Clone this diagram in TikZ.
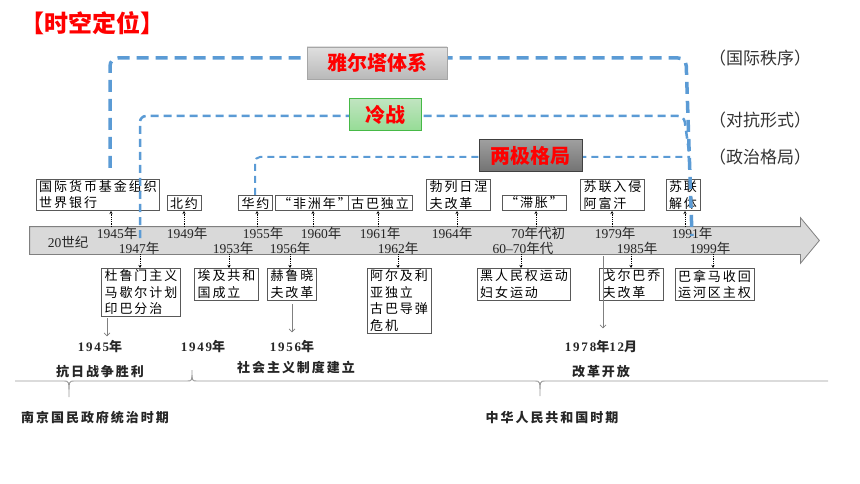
\documentclass[tikz,border=0pt]{standalone}
\usepackage{fontspec}
\setmainfont{Liberation Serif}
\newfontfamily\cjk[LetterSpace=15]{Noto Sans CJK SC}
\newfontfamily\cjkplain{Noto Sans CJK SC}
\newfontfamily\spnum[LetterSpace=14]{Liberation Serif}
\usetikzlibrary{arrows.meta, positioning, calc}
\definecolor{dashblue}{HTML}{5B9BD5}
\definecolor{barfill}{HTML}{D9D9D9}
\definecolor{barline}{HTML}{808080}
\definecolor{boxline}{HTML}{595959}
\newcommand{\nian}{{\cjkplain 年}}

\begin{document}
\begin{tikzpicture}[x=1pt, y=-1pt, >=Stealth, thick]

		% Define block styles
		\tikzstyle{evbox} = [draw=boxline, fill=white, line width=0.8pt, inner xsep=3pt, inner ysep=1.5pt, align=left, font=\cjk\fontsize{13}{16.5}\selectfont]
		\tikzstyle{yr} = [inner sep=0pt, text=black!85, font=\fontsize{13.5}{13.5}\selectfont]
		\tikzstyle{era} = [inner sep=0pt, text=black!85, font=\bfseries\fontsize{13}{13}\selectfont]
		\tikzstyle{tag} = [draw, line width=0.8pt, inner sep=0pt, minimum height=32pt, text=red, font=\cjkplain\bfseries\fontsize{20}{20}\selectfont]
		\tikzstyle{hint} = [inner sep=0pt, text=black!80, font=\cjkplain\fontsize{17}{17}\selectfont]
		\tikzstyle{tickup} = [densely dotted, line width=0.8pt, -{Stealth[length=3pt, width=3pt]}]
		\tikzstyle{gline} = [draw=gray, line width=0.7pt, -{Straight Barb[length=3pt]}]
		\tikzstyle{yaltaline} = [dashblue, line width=3.5pt, dash pattern=on 12pt off 7pt, rounded corners=8pt]
		\tikzstyle{coldline} = [dashblue, line width=2.5pt, dash pattern=on 8pt off 5pt, rounded corners=6pt]
		\tikzstyle{bipoline} = [dashblue, line width=2pt, dash pattern=on 7pt off 5pt, rounded corners=5pt]

		\useasboundingbox (0,0) rectangle (860,484);

		% Title
		\node[inner sep=0pt, text=red, font=\cjkplain\bfseries\fontsize{24}{24}\selectfont] (title) at (92,23) {【时空定位】};

		% Time bar
		\node[minimum width=770pt, minimum height=27pt, inner sep=0pt] (bar) at (415,240.5) {};
		\draw[draw=barline, fill=barfill, line width=0.8pt] (bar.north west) -- (bar.north east) -- ($(bar.north east)+(0,-9)$) -- ($(bar.east)+(19,0)$) -- ($(bar.south east)+(0,9)$) -- (bar.south east) -- (bar.south west) -- cycle;

		% Years on the bar
		\node[yr] (c20) at (68,242) {20{\cjkplain 世纪}};
		\node[yr] (y45) at (117,233) {1945\nian};
		\node[yr] (y49) at (187,233) {1949\nian};
		\node[yr] (y55) at (263,233) {1955\nian};
		\node[yr] (y60) at (321,233) {1960\nian};
		\node[yr] (y61) at (380,233) {1961\nian};
		\node[yr] (y64) at (452,233) {1964\nian};
		\node[yr] (y70) at (538,233) {70{\cjkplain 年代初}};
		\node[yr] (y79) at (615,233) {1979\nian};
		\node[yr] (y91) at (692,233) {1991\nian};
		\node[yr] (y47) at (139,248) {1947\nian};
		\node[yr] (y53) at (233,248) {1953\nian};
		\node[yr] (y56) at (290,248) {1956\nian};
		\node[yr] (y62) at (398,248) {1962\nian};
		\node[yr] (y6070) at (523,248) {60--70{\cjkplain 年代}};
		\node[yr] (y85) at (637,248) {1985\nian};
		\node[yr] (y99) at (710,248) {1999\nian};

		% Events above
		\node[evbox, anchor=south] (imf) at (98,211) {国际货币基金组织\\世界银行};
		\node[evbox, anchor=south] (nato) at (184,211) {北约};
		\node[evbox, anchor=south] (warsaw) at (255.5,211) {华约};
		\node[evbox, anchor=south] (afr) at (314.5,211) {“非洲年”};
		\node[evbox, anchor=south] (cuba) at (380,211) {古巴独立};
		\node[evbox, anchor=south] (brezh) at (458.5,211) {勃列日涅\\夫改革};
		\node[evbox, anchor=south] (stag) at (534,211) {“滞胀”};
		\node[evbox, anchor=south] (afgh) at (612.5,211) {苏联入侵\\阿富汗};
		\node[evbox, anchor=south] (ussr) at (683,211) {苏联\\解体};

		% Events below
		\node[evbox, anchor=north] (truman) at (141,268) {杜鲁门主义\\马歇尔计划\\印巴分治};
		\node[evbox, anchor=north] (egypt) at (226.5,268) {埃及共和\\国成立};
		\node[evbox, anchor=north] (khrush) at (292,268) {赫鲁晓\\夫改革};
		\node[evbox, anchor=north] (alger) at (399,268) {阿尔及利\\亚独立\\古巴导弹\\危机};
		\node[evbox, anchor=north] (civil) at (524,268) {黑人民权运动\\妇女运动};
		\node[evbox, anchor=north] (gorb) at (631.5,268) {戈尔巴乔\\夫改革};
		\node[evbox, anchor=north] (panama) at (714.5,268) {巴拿马收回\\运河区主权};

		% Ticks
		\coordinate (t45) at (111,227);
		\coordinate (t49) at (184,227);
		\coordinate (t55) at (257,227);
		\coordinate (t60) at (313,227);
		\coordinate (t61) at (378,227);
		\coordinate (t64) at (457,227);
		\coordinate (t70) at (536,227);
		\coordinate (t79) at (612,227);
		\coordinate (t91) at (685,227);
		\coordinate (d47) at (140,254);
		\coordinate (d53) at (229,254);
		\coordinate (d56) at (290,254);
		\coordinate (d62) at (398,254);
		\coordinate (d6070) at (521,254);
		\coordinate (d85) at (631,254);
		\coordinate (d99) at (713,254);
		\draw[tickup] (t45) -- (t45 |- imf.south);
		\draw[tickup] (t49) -- (t49 |- nato.south);
		\draw[tickup] (t55) -- (t55 |- warsaw.south);
		\draw[tickup] (t60) -- (t60 |- afr.south);
		\draw[tickup] (t61) -- (t61 |- cuba.south);
		\draw[tickup] (t64) -- (t64 |- brezh.south);
		\draw[tickup] (t70) -- (t70 |- stag.south);
		\draw[tickup] (t79) -- (t79 |- afgh.south);
		\draw[tickup] (t91) -- (t91 |- ussr.south);
		\draw[tickup] (d47) -- (d47 |- truman.north);
		\draw[tickup] (d53) -- (d53 |- egypt.north);
		\draw[tickup] (d56) -- (d56 |- khrush.north);
		\draw[tickup] (d62) -- (d62 |- alger.north);
		\draw[tickup] (d6070) -- (d6070 |- civil.north);
		\draw[tickup] (d85) -- (d85 |- gorb.north);
		\draw[tickup] (d99) -- (d99 |- panama.north);

		% Dashed brackets
		\coordinate (ya0) at (110,168);
		\coordinate (ya1) at (686,58);
		\coordinate (ya2) at (692,236);
		\coordinate (co0) at (140,238);
		\coordinate (co1) at (684,116);
		\coordinate (co2) at (689,152);
		\coordinate (bi0) at (255,195);
		\coordinate (bi1) at (690,157);
		\draw[yaltaline] (ya0) |- (ya1) -- (ya2);
		\draw[coldline] (co0) |- (co1) -- (co2);
		\draw[bipoline] (bi0) |- (bi1);

		\node[tag, draw=gray!70, top color=gray!25, bottom color=gray!55, minimum width=140pt] (yalta) at (377,63) {雅尔塔体系};
		\node[tag, draw=green!45!gray, top color=green!40!gray!35, bottom color=green!50!gray!55, minimum width=72pt] (cold) at (385,114.5) {冷战};
		\node[tag, draw=black!75, top color=gray!75, bottom color=black!55, minimum width=103pt] (bipolar) at (530.5,155.5) {两极格局};

		\node[hint] (h1) at (760,58) {（国际秩序）};
		\node[hint] (h2) at (760,120) {（对抗形式）};
		\node[hint] (h3) at (760,157) {（政治格局）};

		% China line
		\node[era] (b45) at (100,347) {{\spnum 1945}{\cjk 年}};
		\node[era] (b49) at (203,347) {{\spnum 1949}{\cjk 年}};
		\node[era] (b56) at (292,347) {{\spnum 1956}{\cjk 年}};
		\node[era] (b78) at (601,347) {{\spnum 1978}{\cjk 年}{\spnum 12}{\cjk 月}};
		\node[era, font=\cjk\bfseries\fontsize{13}{13}\selectfont, below=11pt of b45] (kr) {抗日战争胜利};
		\node[era, font=\cjk\bfseries\fontsize{13}{13}\selectfont] (sz) at (296,367) {社会主义制度建立};
		\node[era, font=\cjk\bfseries\fontsize{13}{13}\selectfont, below=11pt of b78] (gk) {改革开放};
		\node[era, font=\cjk\bfseries\fontsize{13}{13}\selectfont] (nj) at (95,418) {南京国民政府统治时期};
		\node[era, font=\cjk\bfseries\fontsize{13}{13}\selectfont] (prc) at (552,418) {中华人民共和国时期};

		\coordinate (g45) at (107,318);
		\coordinate (g78) at (603,256);
		\draw[gline, shorten >=4pt] (g45) -- (g45 |- b45.north);
		\draw[gline, shorten <=4pt, shorten >=8pt] (khrush.south) -- (b56.north);
		\draw[gline, shorten >=12pt] (g78) -- (g78 |- b78.north);

		% Braces
		\draw[gray!80, line width=0.9pt] (15,381) -- (64,381) .. controls (69,381) .. (69,397) .. controls (69,381) .. (74,381) -- (187,381) .. controls (192,381) .. (192,370) .. controls (192,381) .. (197,381) -- (535,381) .. controls (540,381) .. (540,396) .. controls (540,381) .. (545,381) -- (828,381);

	\end{tikzpicture}
\end{document}
